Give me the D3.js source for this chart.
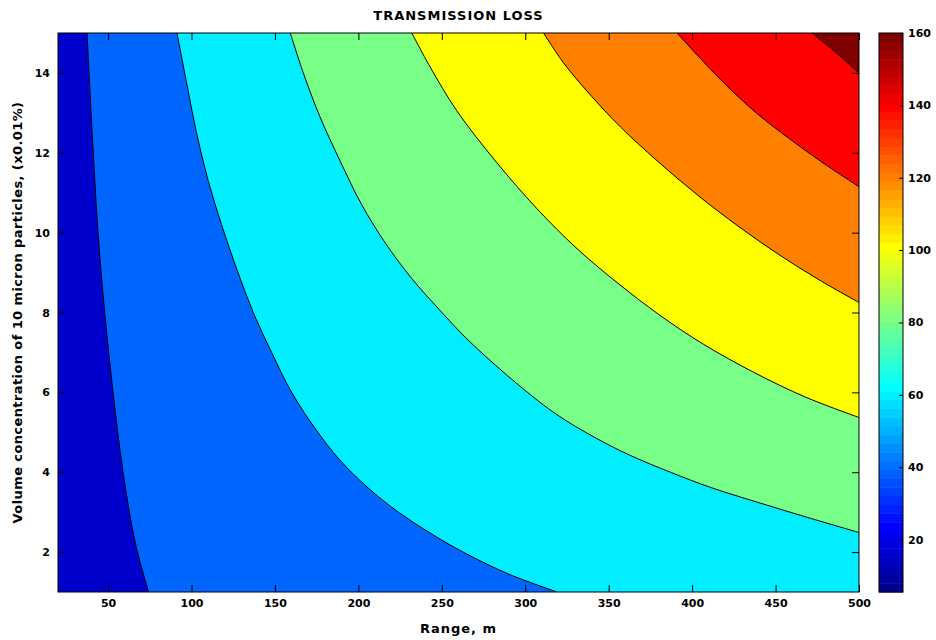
<!DOCTYPE html>
<html>
<head>
<meta charset="utf-8">
<script src="https://cdn.jsdelivr.net/npm/d3@7"></script>
<style>
    body { margin: 0; background: #fff; }
    svg text { font-family: "DejaVu Sans", sans-serif; font-weight: bold; fill: #000; }
    .tick line { stroke: #000; }
</style>
</head>
<body>
<svg id="chart" width="936" height="640"></svg>
<script>
// contour levels and the fill colour of each band (lowest band first)
const levels = [20, 40, 60, 80, 100, 120, 140];
const bandColors = ["#0000cd", "#0066ff", "#00eeff", "#77ff88", "#ffff00", "#ff8000", "#ff0000", "#800000"];

// contour lines, [range (m), volume concentration]
const contour20 = [[37.4, 15], [40.5, 12.5], [44, 10], [48, 8], [53, 6], [59, 4], [66.5, 2.2], [74.3, 1]];
const contour40 = [[91.3, 15], [97.3, 13.7], [103, 12.5], [110, 11.3], [118, 10.2], [127, 9.1], [137, 8.0],
    [148, 7.0], [160, 6.0], [174, 5.1], [189, 4.3], [206, 3.6], [224, 3.0], [244, 2.45], [265, 1.95],
    [290, 1.45], [319, 1]];
const contour60 = [[159.2, 15], [167, 14.0], [177, 12.9], [189, 11.8], [202, 10.7], [216, 9.75], [232, 8.85],
    [249, 8.05], [264, 7.38], [280, 6.76], [299, 6.08], [319, 5.44], [343, 4.84], [363, 4.42], [387, 4.0],
    [411, 3.62], [439, 3.25], [469, 2.87], [500, 2.49]];
const contour80 = [[232, 15], [243, 14.15], [259, 13.05], [283, 11.75], [307, 10.6], [331, 9.6], [355, 8.75],
    [380, 7.95], [407, 7.2], [437, 6.5], [468, 5.88], [500, 5.37]];
const contour100 = [[311, 15], [323, 14.25], [339, 13.45], [357, 12.65], [379, 11.8], [403, 10.95], [428, 10.15],
    [452, 9.45], [476, 8.82], [500, 8.25]];
const contour120 = [[391, 15], [403, 14.45], [419, 13.75], [439, 12.98], [459, 12.33], [479, 11.73], [500, 11.15]];
const contour140 = [[471.8, 15], [484.8, 14.56], [500, 14.0]];

const contours = [contour20, contour40, contour60, contour80, contour100, contour120, contour140];

// axis ticks
const rangeTicks = [50, 100, 150, 200, 250, 300, 350, 400, 450, 500];
const concTicks = [2, 4, 6, 8, 10, 12, 14];
const colorbarTicks = [20, 40, 60, 80, 100, 120, 140, 160];
const colorbarDomain = [5.5, 160];

// MATLAB style jet colormap, i from 0 to n-1
function jet(i, n) {
    let x = (i + 1) / n;
    let clamp = v => Math.max(0, Math.min(1, v));
    let r = clamp(1.5 - Math.abs(4 * x - 3));
    let g = clamp(1.5 - Math.abs(4 * x - 2));
    let b = clamp(1.5 - Math.abs(4 * x - 1));
    return d3.rgb(r * 255, g * 255, b * 255).formatHex();
}

class ContourChart {
    constructor(_config) {
        this.config = {
            parentElement: _config.parentElement,
            plot: { left: 58, right: 859, top: 33, bottom: 592 },
            bar: { left: 879, right: 903 },
        }
        this.initVis();
    }

    initVis() {
        let vis = this;
        let p = vis.config.plot;

        vis.svg = d3.select(vis.config.parentElement);

        vis.xScale = d3.scaleLinear().domain([20, 500]).range([p.left, p.right]);
        vis.yScale = d3.scaleLinear().domain([1, 15]).range([p.bottom, p.top]);
        vis.cScale = d3.scaleLinear().domain(colorbarDomain).range([p.bottom, p.top]);

        vis.svg.append("defs").append("clipPath")
            .attr("id", "plot-clip")
            .append("rect")
            .attr("x", p.left)
            .attr("y", p.top)
            .attr("width", p.right - p.left)
            .attr("height", p.bottom - p.top);

        vis.plotGroup = vis.svg.append("g").attr("clip-path", "url(#plot-clip)");

        vis.renderVis();
    }

    renderVis() {
        let vis = this;
        let p = vis.config.plot;
        let x = vis.xScale, y = vis.yScale;

        let line = d3.line()
            .x(d => x(d[0]))
            .y(d => y(d[1]))
            .curve(d3.curveCatmullRom);

        // lowest band covers everything
        vis.plotGroup.append("rect")
            .attr("x", p.left)
            .attr("y", p.top)
            .attr("width", p.right - p.left)
            .attr("height", p.bottom - p.top)
            .attr("fill", bandColors[0]);

        // each higher band = region right/above its contour line
        vis.plotGroup.selectAll(".band")
            .data(contours)
            .join("path")
            .attr("class", "band")
            .attr("fill", (d, i) => bandColors[i + 1])
            .attr("d", d => {
                let last = d[d.length - 1];
                let path = line(d);
                if (last[1] <= 1) path += `L${x(500)},${y(1)}`;
                path += `L${x(500)},${y(15)}Z`;
                return path;
            });

        vis.plotGroup.selectAll(".contour")
            .data(contours)
            .join("path")
            .attr("class", "contour")
            .attr("fill", "none")
            .attr("stroke", "#000")
            .attr("stroke-width", 1)
            .attr("d", line);

        // axes with inward ticks, like matlab
        let xAxis = vis.svg.append("g")
            .attr("transform", `translate(0,${p.bottom})`)
            .call(d3.axisBottom(x).tickValues(rangeTicks).tickSizeInner(-7).tickSizeOuter(0).tickPadding(7));
        let xTop = vis.svg.append("g")
            .attr("transform", `translate(0,${p.top})`)
            .call(d3.axisTop(x).tickValues(rangeTicks).tickSizeInner(-7).tickSizeOuter(0).tickFormat(""));
        let yAxis = vis.svg.append("g")
            .attr("transform", `translate(${p.left},0)`)
            .call(d3.axisLeft(y).tickValues(concTicks).tickSizeInner(-7).tickSizeOuter(0).tickPadding(8));
        let yRight = vis.svg.append("g")
            .attr("transform", `translate(${p.right},0)`)
            .call(d3.axisRight(y).tickValues(concTicks).tickSizeInner(-7).tickSizeOuter(0).tickFormat(""));

        [xAxis, xTop, yAxis, yRight].forEach(a => {
            a.select(".domain").remove();
            a.selectAll("text").attr("font-size", 11).attr("font-family", "DejaVu Sans").attr("font-weight", "bold");
        });

        vis.svg.append("rect")
            .attr("x", p.left)
            .attr("y", p.top)
            .attr("width", p.right - p.left)
            .attr("height", p.bottom - p.top)
            .attr("fill", "none")
            .attr("stroke", "#000");

        vis.drawColorbar();

        // titles
        vis.svg.append("text")
            .attr("x", (p.left + p.right) / 2)
            .attr("y", 20)
            .attr("text-anchor", "middle")
            .attr("font-size", 13)
            .attr("letter-spacing", 1)
            .text("TRANSMISSION LOSS");

        vis.svg.append("text")
            .attr("x", (p.left + p.right) / 2)
            .attr("y", 633)
            .attr("text-anchor", "middle")
            .attr("font-size", 13)
            .attr("letter-spacing", 1)
            .text("Range, m");

        vis.svg.append("text")
            .attr("transform", `translate(22,${(p.top + p.bottom) / 2}) rotate(-90)`)
            .attr("text-anchor", "middle")
            .attr("font-size", 13)
            .attr("letter-spacing", 0.4)
            .text("Volume concentration of 10 micron particles, (x0.01%)");
    }

    drawColorbar() {
        let vis = this;
        let b = vis.config.bar;
        let c = vis.cScale;
        let n = 64;
        let step = (colorbarDomain[1] - colorbarDomain[0]) / n;

        vis.svg.append("g").selectAll("rect")
            .data(d3.range(n))
            .join("rect")
            .attr("x", b.left)
            .attr("width", b.right - b.left)
            .attr("y", i => c(colorbarDomain[0] + (i + 1) * step))
            .attr("height", i => c(colorbarDomain[0] + i * step) - c(colorbarDomain[0] + (i + 1) * step) + 0.5)
            .attr("fill", i => jet(i, n));

        let cAxis = vis.svg.append("g")
            .attr("transform", `translate(${b.right},0)`)
            .call(d3.axisRight(c).tickValues(colorbarTicks).tickSizeInner(-4).tickSizeOuter(0).tickPadding(5));
        cAxis.select(".domain").remove();
        cAxis.selectAll("text").attr("font-size", 11).attr("font-family", "DejaVu Sans").attr("font-weight", "bold");

        vis.svg.append("rect")
            .attr("x", b.left)
            .attr("y", c(colorbarDomain[1]))
            .attr("width", b.right - b.left)
            .attr("height", c(colorbarDomain[0]) - c(colorbarDomain[1]))
            .attr("fill", "none")
            .attr("stroke", "#000");
    }
}

new ContourChart({ parentElement: "#chart" });
</script>
</body>
</html>
